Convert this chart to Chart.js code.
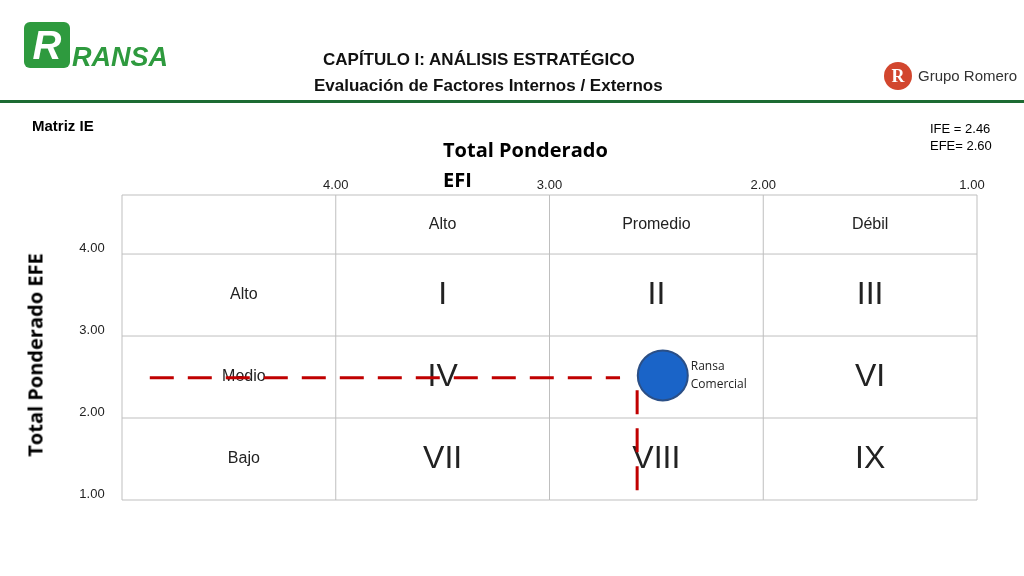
<!DOCTYPE html>
<html><head><meta charset="utf-8">
<script src="https://cdn.jsdelivr.net/npm/chart.js@4"></script>
<style>
body{margin:0;width:1024px;height:576px;background:#fff;position:relative;overflow:hidden;font-family:"Liberation Sans",Arial,sans-serif}
.abs{position:absolute}
</style></head><body>
<div class="abs" style="left:0;top:0;width:1024px;height:576px"><canvas id="c" width="1024" height="576" style="width:1024px;height:576px"></canvas></div>
<div class="abs" style="left:24px;top:22px;width:46px;height:46px;background:#2e9a3e;border-radius:6px;color:#fff;font:bold italic 40px 'Liberation Sans';text-align:center;line-height:46px">R</div>
<div class="abs" style="left:72px;top:42px;color:#2e9a3e;font:bold italic 27px 'Liberation Sans'">RANSA</div>
<div class="abs" style="left:0;top:100px;width:1024px;height:3px;background:#1d6b33"></div>
<div class="abs" style="left:323px;top:50px;font:bold 17px 'Liberation Sans';color:#111">CAPÍTULO I: ANÁLISIS ESTRATÉGICO</div>
<div class="abs" style="left:314px;top:76px;font:bold 17px 'Liberation Sans';color:#111">Evaluación de Factores Internos / Externos</div>
<div class="abs" style="left:884px;top:62px;width:28px;height:28px;background:#d2462e;border-radius:50%;color:#fff;font:bold 18px 'Liberation Serif';text-align:center;line-height:28px">R</div>
<div class="abs" style="left:918px;top:67px;font:15px 'Liberation Sans';color:#333">Grupo Romero</div>
<div class="abs" style="left:32px;top:117px;font:bold 15px 'Liberation Sans'">Matriz IE</div>
<div class="abs" style="left:930px;top:120px;font:13px 'Liberation Sans';line-height:17px">IFE = 2.46<br>EFE= 2.60</div>
<div class="abs" style="left:443px;top:135px;font:bold 20px 'Open Sans';line-height:30px">Total Ponderado<br>EFI</div>
<div class="abs" style="left:35px;top:355px;font:bold 20px 'Open Sans';transform:translate(-50%,-50%) rotate(-90deg);white-space:nowrap">Total Ponderado EFE</div>
<script>
const xTicks=[4,3,2,1];
const yTicks=[4,3,2,1];
const colHeaders=["Alto","Promedio","Débil"];
const rowHeaders=["Alto","Medio","Bajo"];
const cellLabels=[["I","II","III"],["IV","","VI"],["VII","VIII","IX"]];
const ife=[2.47];
const efe=[2.52];
const hLineX=[4.87,2.67];
const hLineY=[2.49,2.49];
const vLineX=[2.59,2.59];
const vLineY=[2.34,1.06];
const X0=5,Y0=4.72;
const plugin={id:'grid',beforeDatasetsDraw(ch){
 const c=ch.ctx,x=ch.scales.x,y=ch.scales.y;
 const xs=[X0,...xTicks].map(v=>x.getPixelForValue(v));
 const ys=[Y0,...yTicks].map(v=>y.getPixelForValue(v));
 c.save();c.strokeStyle='#bfbfbf';c.lineWidth=1;
 xs.forEach(p=>{c.beginPath();c.moveTo(p,ys[0]);c.lineTo(p,ys[4]);c.stroke();});
 ys.forEach(p=>{c.beginPath();c.moveTo(xs[0],p);c.lineTo(xs[4],p);c.stroke();});
 c.fillStyle='#222';c.textAlign='center';c.textBaseline='middle';
 c.font='13px "Liberation Sans"';
 xTicks.forEach((v,i)=>c.fillText(v.toFixed(2),xs[i+1]-(i==3?5:0),185));
 yTicks.forEach((v,i)=>c.fillText(v.toFixed(2),92,ys[i+1]-6));
 c.font='16px "Liberation Sans"';
 colHeaders.forEach((t,i)=>c.fillText(t,(xs[i+1]+xs[i+2])/2,(ys[0]+ys[1])/2));
 rowHeaders.forEach((t,i)=>c.fillText(t,(xs[0]+xs[1])/2+15,(ys[i+1]+ys[i+2])/2));
 c.font='32px "Liberation Sans"';
 cellLabels.forEach((r,i)=>r.forEach((t,j)=>c.fillText(t,(xs[j+1]+xs[j+2])/2,(ys[i+1]+ys[i+2])/2)));
 c.font='12px "Open Sans"';c.textAlign='left';
 const px=x.getPixelForValue(ife[0]),py=y.getPixelForValue(efe[0]);
 c.fillText('Ransa',px+28,py-9);c.fillText('Comercial',px+28,py+9);
 c.restore();}};
const pts=ife.map((v,i)=>({x:v,y:efe[i]}));
new Chart(document.getElementById('c'),{type:'scatter',plugins:[plugin],
data:{datasets:[
 {type:'line',data:hLineX.map((v,i)=>({x:v,y:hLineY[i]})),borderColor:'#c00000',borderWidth:3,borderDash:[24,14],pointRadius:0},
 {type:'line',data:vLineX.map((v,i)=>({x:v,y:vLineY[i]})),borderColor:'#c00000',borderWidth:3,borderDash:[24,14],pointRadius:0},
 {data:pts,pointRadius:25,pointBackgroundColor:'#1a64c8',pointBorderColor:'#2b4f86',pointBorderWidth:2}
]},
options:{responsive:false,animation:false,events:[],devicePixelRatio:1,
 layout:{padding:{left:122,right:47,top:195,bottom:76}},
 plugins:{legend:{display:false},tooltip:{enabled:false}},
 scales:{x:{type:'linear',reverse:true,min:1,max:X0,display:false},y:{type:'linear',min:1,max:Y0,display:false}}}});
</script></body></html>
